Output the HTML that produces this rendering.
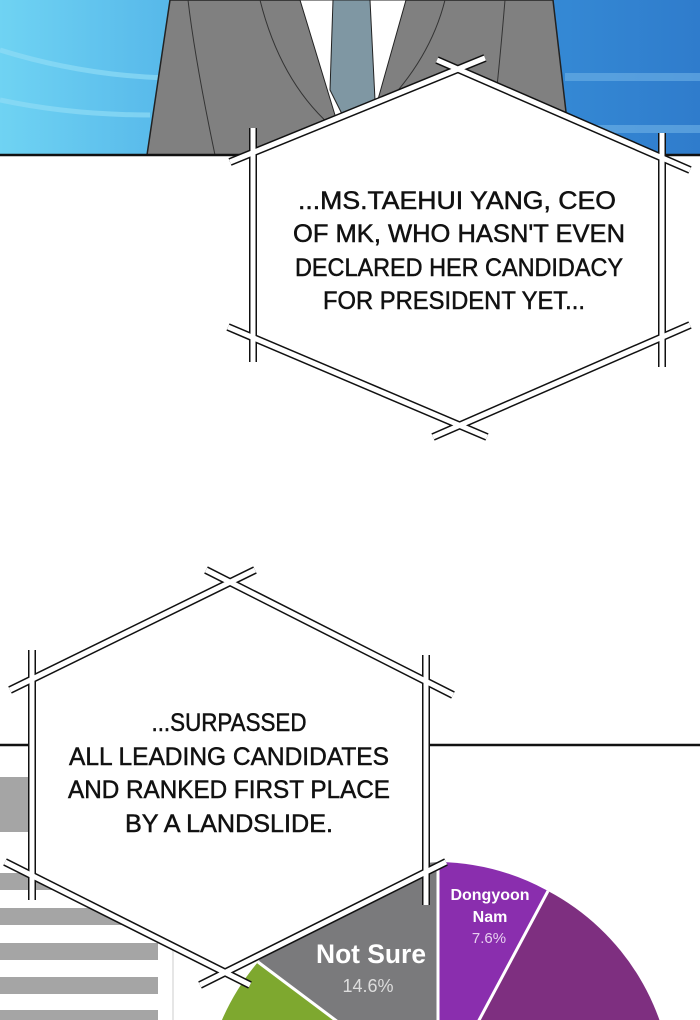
<!DOCTYPE html>
<html><head><meta charset="utf-8"><style>
html,body{margin:0;padding:0;background:#fff;overflow:hidden;}
svg{display:block}
text{font-family:"Liberation Sans",sans-serif;}
</style></head><body>
<svg width="700" height="1020" viewBox="0 0 700 1020" xmlns="http://www.w3.org/2000/svg">
<defs>
<linearGradient id="bg" x1="0" y1="0" x2="1" y2="0">
<stop offset="0" stop-color="#6fd3f3"/><stop offset="0.5" stop-color="#3d9be0"/><stop offset="1" stop-color="#2f7ccc"/>
</linearGradient>
</defs>
<rect x="0" y="0" width="700" height="155" fill="url(#bg)"/>
<path d="M0 50 Q80 75 165 78" stroke="#8fdcf5" stroke-width="5" fill="none" opacity="0.7"/>
<path d="M0 100 Q70 115 150 115" stroke="#8fdcf5" stroke-width="5" fill="none" opacity="0.7"/>
<rect x="565" y="73" width="135" height="8" fill="#6fb2e6" opacity="0.6"/>
<rect x="565" y="125" width="135" height="8" fill="#6fb2e6" opacity="0.6"/>
<path d="M170 0 L553 0 L571 155 L147 155 Z" fill="#808080" stroke="#222" stroke-width="1.5"/>
<path d="M300 0 L406 0 L375 110 L338 125 Z" fill="#fff" stroke="#222" stroke-width="1"/>
<path d="M333 0 L370 0 L375 100 L345 120 L330 90 Z" fill="#7f97a3" stroke="#222" stroke-width="1"/>
<path d="M188 0 Q195 60 215 155 M260 0 Q280 80 330 125 M445 0 Q430 60 380 110 M505 0 Q500 60 495 105" stroke="#333" stroke-width="1" fill="none"/>
<line x1="0" y1="155" x2="700" y2="155" stroke="#111" stroke-width="2.5"/>

<polygon points="253,152.6 457.8,71 662,157.9 662,337.2 459.6,425.4 253,337.6" fill="#fff"/>
<g stroke="#111" stroke-width="8">
<line x1="230" y1="162" x2="485" y2="58"/><line x1="437" y1="60" x2="690" y2="170"/>
<line x1="253" y1="128" x2="253" y2="362"/><line x1="662" y1="133" x2="662" y2="367"/>
<line x1="228" y1="327" x2="487" y2="437"/><line x1="690" y1="325" x2="433" y2="437"/>
</g>
<g stroke="#fff" stroke-width="5">
<line x1="230" y1="162" x2="485" y2="58"/><line x1="437" y1="60" x2="690" y2="170"/>
<line x1="253" y1="128" x2="253" y2="362"/><line x1="662" y1="133" x2="662" y2="367"/>
<line x1="228" y1="327" x2="487" y2="437"/><line x1="690" y1="325" x2="433" y2="437"/>
</g>
<g font-size="25" fill="#111" stroke="#111" stroke-width="0.5" text-anchor="middle">
<text x="457" y="209" textLength="318" lengthAdjust="spacingAndGlyphs">...MS.TAEHUI YANG, CEO</text>
<text x="459" y="242" textLength="332" lengthAdjust="spacingAndGlyphs">OF MK, WHO HASN'T EVEN</text>
<text x="459" y="276" textLength="328" lengthAdjust="spacingAndGlyphs">DECLARED HER CANDIDACY</text>
<text x="454" y="309" textLength="262" lengthAdjust="spacingAndGlyphs">FOR PRESIDENT YET...</text>
</g>

<line x1="0" y1="745" x2="700" y2="745" stroke="#111" stroke-width="2.5"/>
<g fill="#a5a5a5">
<rect x="0" y="777" width="158" height="55"/>
<rect x="0" y="873" width="158" height="17"/>
<rect x="0" y="908" width="158" height="17"/>
<rect x="0" y="943" width="158" height="17"/>
<rect x="0" y="977" width="158" height="17"/>
<rect x="0" y="1010" width="158" height="10"/>
</g>
<line x1="173" y1="760" x2="173" y2="1020" stroke="#e6e6e6" stroke-width="2"/>
<path d="M438 1097 L258 962 A235 235 0 0 0 203 1097 Z" fill="#7ea82f"/>
<path d="M438 1097 L438 862 A235 235 0 0 0 258 962 Z" fill="#7a7a7c"/>
<path d="M438 1097 L548 891 A235 235 0 0 0 438 862 Z" fill="#8a2eae"/>
<path d="M438 1097 L673 1097 A235 235 0 0 0 548 891 Z" fill="#7e2f80"/>
<g stroke="#fff" stroke-width="3">
<line x1="438" y1="1097" x2="258" y2="962"/>
<line x1="438" y1="1097" x2="438" y2="862"/>
<line x1="438" y1="1097" x2="548" y2="891"/>
</g>
<text x="490" y="900" font-size="16" fill="#fff" text-anchor="middle" font-weight="bold">Dongyoon</text>
<text x="490" y="922" font-size="16" fill="#fff" text-anchor="middle" font-weight="bold">Nam</text>
<text x="489" y="943" font-size="15" fill="#e8d0f0" text-anchor="middle">7.6%</text>
<text x="371" y="963" font-size="27" fill="#fff" text-anchor="middle" font-weight="bold" textLength="110" lengthAdjust="spacingAndGlyphs">Not Sure</text>
<text x="368" y="992" font-size="18" fill="#ddd" text-anchor="middle">14.6%</text>

<polygon points="32,679.2 230,582.1 426,681.3 426,872 225,972.4 32,875.6" fill="#fff"/>
<g stroke="#111" stroke-width="8">
<line x1="10" y1="690" x2="255" y2="570"/><line x1="206" y1="570" x2="453" y2="695"/>
<line x1="32" y1="650" x2="32" y2="900"/><line x1="426" y1="655" x2="426" y2="905"/>
<line x1="5" y1="862" x2="250" y2="985"/><line x1="446" y1="862" x2="200" y2="985"/>
</g>
<g stroke="#fff" stroke-width="5">
<line x1="10" y1="690" x2="255" y2="570"/><line x1="206" y1="570" x2="453" y2="695"/>
<line x1="32" y1="650" x2="32" y2="900"/><line x1="426" y1="655" x2="426" y2="905"/>
<line x1="5" y1="862" x2="250" y2="985"/><line x1="446" y1="862" x2="200" y2="985"/>
</g>
<g font-size="25" fill="#111" stroke="#111" stroke-width="0.5" text-anchor="middle">
<text x="229" y="731" textLength="155" lengthAdjust="spacingAndGlyphs">...SURPASSED</text>
<text x="229" y="765" textLength="320" lengthAdjust="spacingAndGlyphs">ALL LEADING CANDIDATES</text>
<text x="229" y="798" textLength="322" lengthAdjust="spacingAndGlyphs">AND RANKED FIRST PLACE</text>
<text x="229" y="832" textLength="208" lengthAdjust="spacingAndGlyphs">BY A LANDSLIDE.</text>
</g>
</svg>
</body></html>
